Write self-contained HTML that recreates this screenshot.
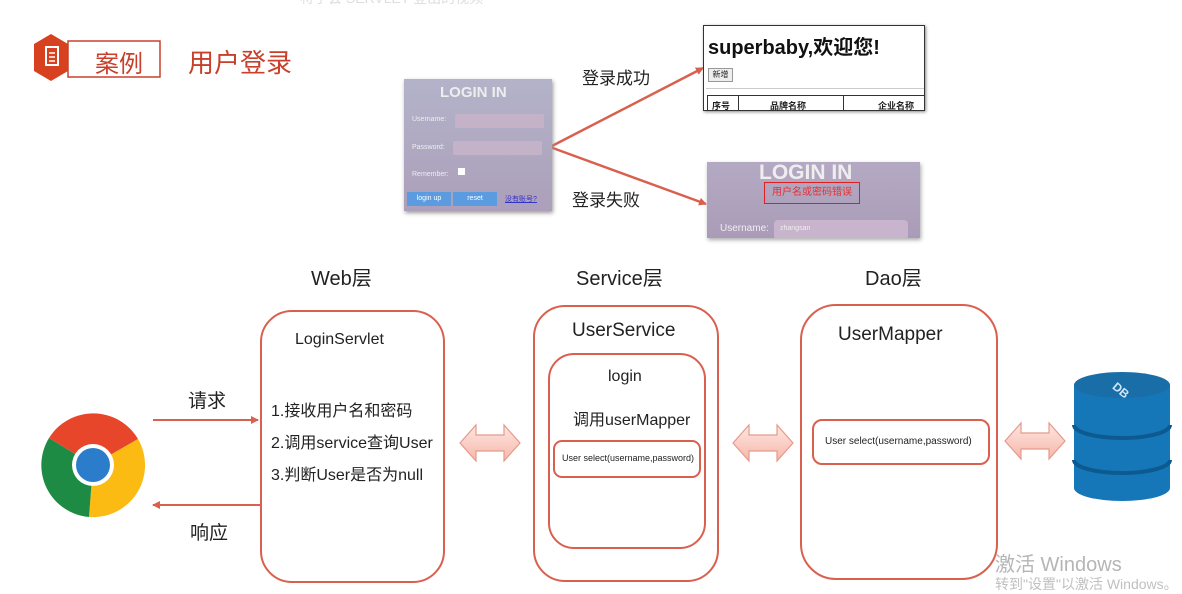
<!DOCTYPE html>
<html><head><meta charset="utf-8"><style>
*{margin:0;padding:0;box-sizing:border-box}
body{width:1182px;height:585px;background:#fff;position:relative;overflow:hidden;font-family:"Liberation Sans","Noto Sans CJK SC",sans-serif;color:#222}
.a{position:absolute;white-space:nowrap}
.box{position:absolute;border:2.5px solid #d9604f;background:#fff}
</style></head><body>
<svg class="a" style="left:0;top:0" width="1182" height="585">
<defs>
<marker id="ar" markerWidth="8" markerHeight="8" refX="7" refY="4" orient="auto" markerUnits="userSpaceOnUse"><path d="M0,0 L8,4 L0,8z" fill="#d9604f"/></marker>
<linearGradient id="pg" x1="0" y1="0" x2="0" y2="1"><stop offset="0" stop-color="#fde7e2"/><stop offset="1" stop-color="#f7b7aa"/></linearGradient>
<g id="dbl"><path d="M0,22 L16,4 L16,14 L44,14 L44,4 L60,22 L44,40 L44,30 L16,30 L16,40z" fill="url(#pg)" stroke="#e59a8b" stroke-width="1.2"/></g>
</defs>
<!-- hex logo -->
<polygon points="51,34 68,44 68,71 51,81 34,71 34,44" fill="#d8411f"/>
<rect x="46" y="47" width="12" height="18" fill="none" stroke="#fff" stroke-width="2"/>
<line x1="49" y1="53" x2="55" y2="53" stroke="#fff" stroke-width="1.5"/><line x1="49" y1="57" x2="55" y2="57" stroke="#fff" stroke-width="1.5"/><line x1="49" y1="61" x2="55" y2="61" stroke="#fff" stroke-width="1.5"/>
<rect x="68" y="41" width="92" height="36" fill="none" stroke="#c8402b" stroke-width="1.5"/>
<!-- login arrows -->
<line x1="550" y1="147" x2="703" y2="68" stroke="#d9604f" stroke-width="2.5" marker-end="url(#ar)"/>
<line x1="550" y1="147" x2="706" y2="204" stroke="#d9604f" stroke-width="2.5" marker-end="url(#ar)"/>
<!-- request/response -->
<line x1="153" y1="420" x2="258" y2="420" stroke="#d9604f" stroke-width="2" marker-end="url(#ar)"/>
<line x1="260" y1="505" x2="153" y2="505" stroke="#d9604f" stroke-width="2" marker-end="url(#ar)"/>
<use href="#dbl" x="460" y="421"/>
<use href="#dbl" x="733" y="421"/>
<use href="#dbl" x="1005" y="419"/>
<!-- chrome -->
<g transform="translate(93,465)">
<path d="M0,0 L-44,-27 A52,52 0 0 1 45,-26 Z" fill="#e8462b"/>
<path d="M0,0 L45,-26 A52,52 0 0 1 -4,52 Z" fill="#fbbb12"/>
<path d="M0,0 L-4,52 A52,52 0 0 1 -44,-27 Z" fill="#1e8b45"/>
<circle r="21" fill="#fff"/><circle r="17" fill="#2b7ccb"/>
</g>
<!-- DB -->
<g>
<path d="M1074,385 L1074,488 A48,13 0 0 0 1170,488 L1170,385 Z" fill="#1577b7"/>
<ellipse cx="1122" cy="385" rx="48" ry="13" fill="#1a6ea8"/>
<path d="M1074,425 A48,13 0 0 0 1170,425" fill="none" stroke="#0d5a90" stroke-width="4"/>
<path d="M1074,460 A48,13 0 0 0 1170,460" fill="none" stroke="#0d5a90" stroke-width="4"/>
<text x="1113" y="392" fill="#cfe6f7" font-size="12" font-weight="bold" transform="rotate(40 1118 388)" font-family="Liberation Sans">DB</text>
</g>
</svg>
<div class="a" style="left:95px;top:44px;font-size:24px;color:#c8402b">案例</div>
<div class="a" style="left:188px;top:43px;font-size:26px;color:#c8402b">用户登录</div>
<div class="a" style="left:300px;top:-12px;font-size:14px;color:#ddd">将学会 SERVLET 登出的视频</div>

<!-- login panel -->
<div class="a" style="left:404px;top:79px;width:148px;height:132px;background:linear-gradient(#b3b3c9,#ac9fba);box-shadow:1px 2px 4px #999">
<div class="a" style="left:36px;top:5px;font-size:15px;font-weight:bold;color:#eee">LOGIN IN</div>
<div class="a" style="left:8px;top:37px;font-size:7px;color:#eee">Username:</div>
<div class="a" style="left:51px;top:35px;width:89px;height:14px;background:#c4b2c8;border-radius:2px"></div>
<div class="a" style="left:8px;top:65px;font-size:7px;color:#eee">Password:</div>
<div class="a" style="left:49px;top:62px;width:89px;height:14px;background:#c4b2c8;border-radius:2px"></div>
<div class="a" style="left:8px;top:92px;font-size:7px;color:#eee">Remember:</div>
<div class="a" style="left:54px;top:89px;width:7px;height:7px;background:#fff"></div>
<div class="a" style="left:3px;top:113px;width:44px;height:14px;background:#5b9be0;font-size:7px;color:#fff;text-align:center;line-height:14px">login up</div>
<div class="a" style="left:49px;top:113px;width:44px;height:14px;background:#5b9be0;font-size:7px;color:#fff;text-align:center;line-height:14px">reset</div>
<div class="a" style="left:101px;top:115px;font-size:7px;color:#33c;text-decoration:underline">没有账号?</div>
</div>
<div class="a" style="left:582px;top:64px;font-size:17px">登录成功</div>
<div class="a" style="left:572px;top:186px;font-size:17px">登录失败</div>

<!-- success page -->
<div class="a" style="left:703px;top:25px;width:222px;height:86px;background:#fff;border:1px solid #333;box-shadow:1px 1px 3px #888;overflow:hidden">
<div class="a" style="left:4px;top:5px;font-size:20px;font-weight:bold;color:#111">superbaby,欢迎您!</div>
<div class="a" style="left:4px;top:42px;width:25px;height:14px;border:1px solid #999;background:#eee;font-size:8px;text-align:center;line-height:12px">新增</div>
<div class="a" style="left:2px;top:62px;width:220px;height:1px;background:#ccc"></div>
<div class="a" style="left:3px;top:69px;width:222px;height:17px;border:1px solid #333;font-size:9px;font-weight:bold">
<span class="a" style="left:4px;top:3px">序号</span><span class="a" style="left:30px;top:0;width:1px;height:16px;background:#333"></span>
<span class="a" style="left:62px;top:3px">品牌名称</span><span class="a" style="left:135px;top:0;width:1px;height:16px;background:#333"></span>
<span class="a" style="left:170px;top:3px">企业名称</span></div>
</div>
<!-- fail page -->
<div class="a" style="left:707px;top:162px;width:213px;height:76px;background:linear-gradient(#b4a9c2,#aa9cb8);box-shadow:1px 2px 4px #aaa;overflow:hidden">
<div class="a" style="left:52px;top:-1px;font-size:21px;font-weight:bold;color:#eee">LOGIN IN</div>
<div class="a" style="left:57px;top:20px;width:96px;height:22px;border:1.5px solid #e02020;font-size:10px;color:#e83030;text-align:center;line-height:19px">用户名或密码错误</div>
<div class="a" style="left:13px;top:61px;font-size:10px;color:#eee">Username:</div>
<div class="a" style="left:67px;top:58px;width:134px;height:20px;background:#c8b4cc;border-radius:4px;font-size:7px;color:#eee;padding:5px 6px">zhangsan</div>
</div>

<div class="a" style="left:311px;top:262px;font-size:20px">Web层</div>
<div class="a" style="left:576px;top:262px;font-size:20px">Service层</div>
<div class="a" style="left:865px;top:262px;font-size:20px">Dao层</div>

<div class="a" style="left:188px;top:386px;font-size:19px">请求</div>
<div class="a" style="left:190px;top:518px;font-size:19px">响应</div>

<div class="box" style="left:260px;top:310px;width:185px;height:273px;border-radius:32px"></div>
<div class="a" style="left:295px;top:331px;font-size:16px">LoginServlet</div>
<div class="a" style="left:271px;top:396px;font-size:16px;line-height:32px">1.接收用户名和密码<br>2.调用service查询User<br>3.判断User是否为null</div>

<div class="box" style="left:533px;top:305px;width:186px;height:277px;border-radius:32px"></div>
<div class="a" style="left:572px;top:320px;font-size:19px">UserService</div>
<div class="box" style="left:548px;top:353px;width:158px;height:196px;border-radius:26px"></div>
<div class="a" style="left:608px;top:368px;font-size:16px">login</div>
<div class="a" style="left:573px;top:406px;font-size:16px">调用userMapper</div>
<div class="box" style="left:553px;top:440px;width:148px;height:38px;border-radius:9px"></div>
<div class="a" style="left:562px;top:453px;font-size:9px">User select(username,password)</div>

<div class="box" style="left:800px;top:304px;width:198px;height:276px;border-radius:36px"></div>
<div class="a" style="left:838px;top:324px;font-size:19px">UserMapper</div>
<div class="box" style="left:812px;top:419px;width:178px;height:46px;border-radius:10px"></div>
<div class="a" style="left:825px;top:436px;font-size:10px">User select(username,password)</div>

<div class="a" style="left:995px;top:548px;font-size:20px;color:#b5b5b5">激活 Windows</div>
<div class="a" style="left:995px;top:574px;font-size:14px;color:#c0c0c0">转到"设置"以激活 Windows。</div>
</body></html>
